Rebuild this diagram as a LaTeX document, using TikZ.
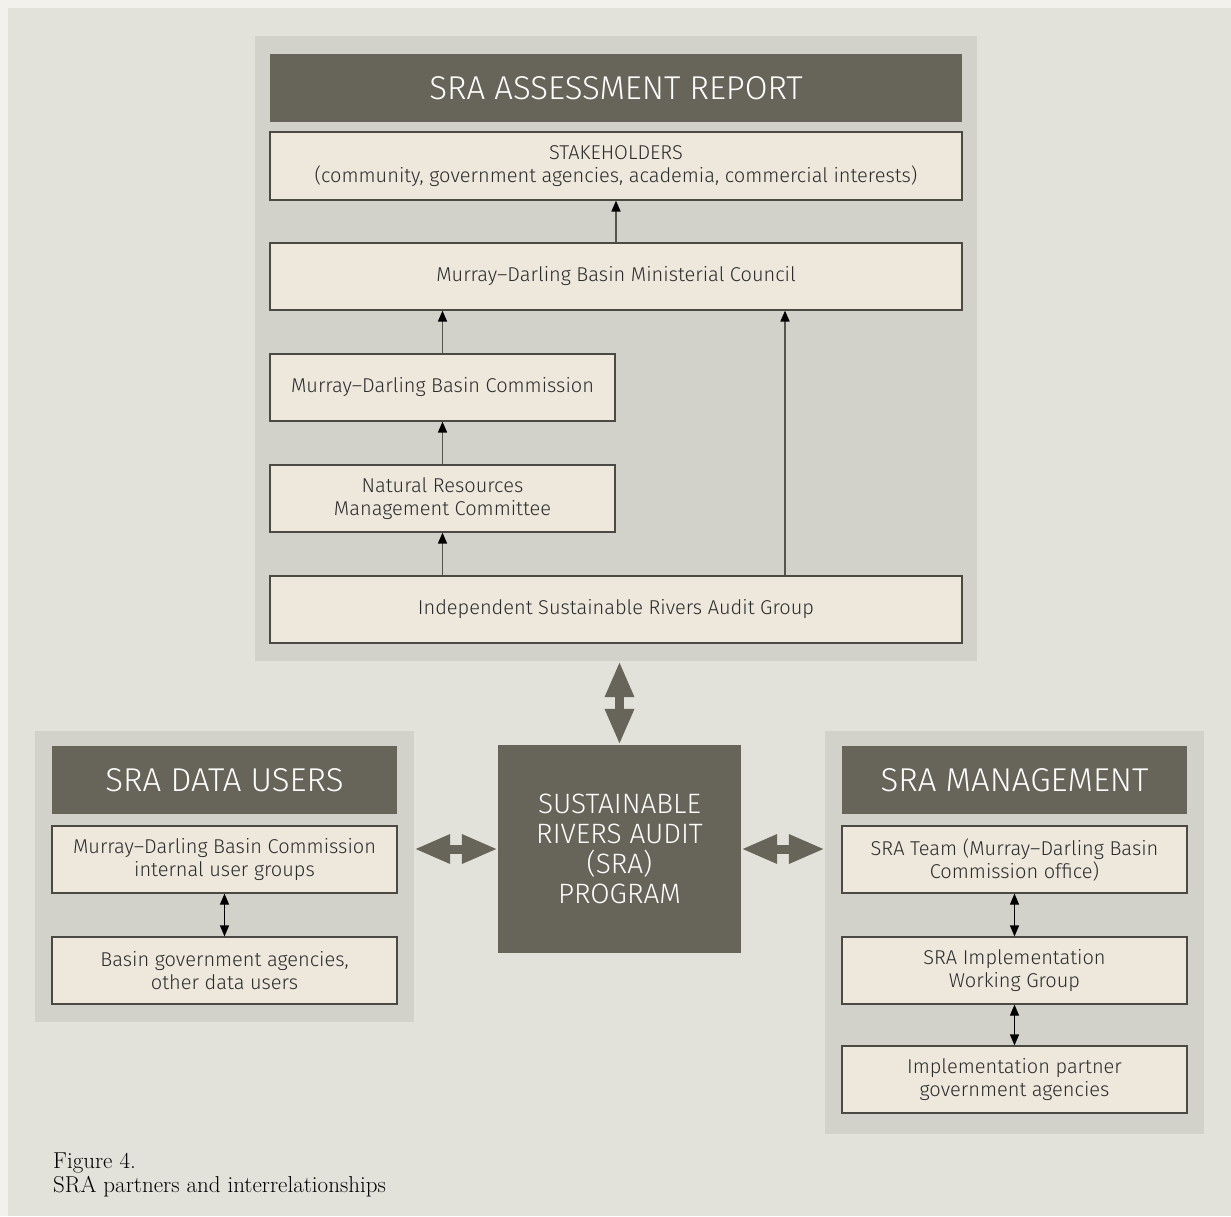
\documentclass[tikz,border=0pt]{standalone}
\usepackage{fontspec}
\setsansfont{Fira Sans Light}
\usetikzlibrary{arrows.meta}
\definecolor{outerbg}{HTML}{F2F1EB}
\definecolor{pagebg}{HTML}{E2E1DA}
\definecolor{panelbg}{HTML}{D3D2CA}
\definecolor{darkbox}{HTML}{67655A}
\definecolor{boxbg}{HTML}{EDE7DC}
\definecolor{boxline}{HTML}{4A4944}
\definecolor{edgegray}{HTML}{55544F}
\definecolor{textgray}{HTML}{2B2B2B}
\tikzstyle{panel} = [rectangle, inner sep=0pt, fill=panelbg]
\tikzstyle{titlebar} = [rectangle, inner sep=0pt, minimum width=345pt, minimum height=68pt, fill=darkbox, text=white, font=\sffamily\fontsize{33}{36}\selectfont]
\tikzstyle{infobox} = [rectangle, inner sep=0pt, minimum width=345pt, minimum height=67pt, align=center, draw=boxline, line width=1.2pt, fill=boxbg, text=textgray, font=\sffamily\fontsize{20}{23}\selectfont]
\tikzstyle{program} = [rectangle, inner sep=0pt, minimum width=243pt, minimum height=208pt, align=center, fill=darkbox, text=white, font=\sffamily\fontsize{28}{30}\selectfont]
\tikzstyle{edge} = [draw=edgegray, line width=1.6pt, -{Triangle[length=11pt, width=9pt, color=black]}]
\tikzstyle{twoway} = [draw=black, line width=1.2pt, {Triangle[length=11pt, width=9pt]}-{Triangle[length=11pt, width=9pt]}]
\tikzstyle{bigarrow} = [draw=darkbox, line width=9pt, {Triangle[length=36pt, width=27pt]}-{Triangle[length=36pt, width=27pt]}]

\begin{document}
\begin{tikzpicture}[x=1pt, y=-1pt]

\useasboundingbox (0,0) rectangle (1231,1216);
\fill [outerbg] (0,0) rectangle (1231,1216);
\fill [pagebg] (8,8) rectangle (1231,1216);

% assessment report
\node (0) [panel, minimum width=722pt, minimum height=625pt] at (616,348.5) {};
\node (1) [titlebar, minimum width=692pt] at (616,88) {SRA ASSESSMENT REPORT};
\node (2) [infobox, minimum width=692pt, minimum height=68pt] at (616,166) {STAKEHOLDERS\\(community, government agencies, academia, commercial interests)};
\node (3) [infobox, minimum width=692pt] at (616,276.5) {Murray\textendash Darling Basin Ministerial Council};
\node (4) [infobox] at (442.5,387.5) {Murray\textendash Darling Basin Commission};
\node (5) [infobox] at (442.5,498.5) {Natural Resources\\Management Committee};
\node (6) [infobox, minimum width=692pt] at (616,609.5) {Independent Sustainable Rivers Audit Group};

% program
\node (7) [program] at (619.5,849) {SUSTAINABLE\\RIVERS AUDIT\\(SRA)\\PROGRAM};

% data users
\node (8) [panel, minimum width=379pt, minimum height=291pt] at (224.5,876.5) {};
\node (9) [titlebar] at (224.5,780) {SRA DATA USERS};
\node (10) [infobox] at (224.5,859.5) {Murray\textendash Darling Basin Commission\\internal user groups};
\node (11) [infobox] at (224.5,970.5) {Basin government agencies,\\other data users};

% management
\node (12) [panel, minimum width=379pt, minimum height=403pt] at (1014.5,932.5) {};
\node (13) [titlebar] at (1014.5,780) {SRA MANAGEMENT};
\node (14) [infobox] at (1014.5,859.5) {SRA Team (Murray\textendash Darling Basin\\Commission office)};
\node (15) [infobox] at (1014.5,970.5) {SRA Implementation\\Working Group};
\node (16) [infobox] at (1014.5,1079.5) {Implementation partner\\government agencies};

\node (17) [anchor=base west, align=left, inner sep=0pt, text=black, font=\rmfamily\fontsize{23}{24}\selectfont] at (53,1192) {Figure 4.\\SRA partners and interrelationships};

\draw [edge] (3.north) -- (2.south);
\draw [edge] (4.north) -- (4.north |- 3.south);
\draw [edge] (5.north) -- (4.south);
\draw [edge] (5.south |- 6.north) -- (5.south);
\draw [edge] ([xshift=169pt]6.north) -- ([xshift=169pt]3.south);

\draw [twoway] (10.south) -- (11.north);
\draw [twoway] (14.south) -- (15.north);
\draw [twoway] (15.south) -- (16.north);

\draw [bigarrow] (7.north) -- (7.north |- 0.south);
\draw [bigarrow] (8.east |- 7.west) -- (7.west);
\draw [bigarrow] (7.east) -- (12.west |- 7.east);

\end{tikzpicture}
\end{document}
